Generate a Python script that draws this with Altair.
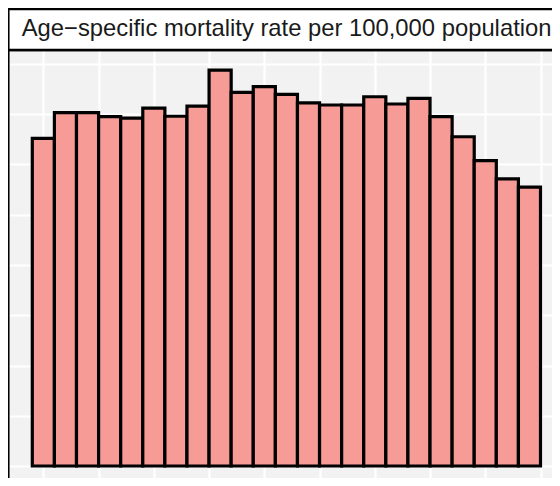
import altair as alt
import pandas as pd

# ---- data ----
years = list(range(2000, 2023))
rates = [16.30, 17.58, 17.58, 17.38, 17.31, 17.80, 17.40, 17.90, 19.70, 18.59,
         18.87, 18.49, 18.07, 17.96, 17.96, 18.37, 18.01, 18.29, 17.38, 16.38,
         15.19, 14.28, 13.87]
x_grid = [2000, 2002.5, 2005, 2007.5, 2010, 2012.5, 2015, 2017.5, 2020, 2022.5]
y_grid = [0, 2.5, 5, 7.5, 10, 12.5, 15, 17.5, 20]
strip_title = "Age\u2212specific mortality rate per 100,000 population"

df = pd.DataFrame({"year": years, "rate": rates})
one = pd.DataFrame({"k": [0]})

x_scale = alt.Scale(domain=[1998.40, 2023.02], nice=False, zero=False)
y_scale = alt.Scale(domain=[-0.597, 20.6965], nice=False, zero=False)

x_axis = alt.Axis(values=x_grid, grid=True, gridColor="white", gridWidth=2.2,
                  labels=False, ticks=False, domain=False, title=None)
y_axis = alt.Axis(values=y_grid, grid=True, gridColor="white", gridWidth=2.2,
                  labels=False, ticks=False, domain=False, title=None)

bars = alt.Chart(df).transform_calculate(
    x0="datum.year - 0.5", x1="datum.year + 0.5", zero="0"
).mark_rect(fill="#F69B95", stroke="black", strokeWidth=3.2).encode(
    x=alt.X("x0:Q", scale=x_scale, axis=x_axis),
    x2="x1:Q",
    y=alt.Y("zero:Q", scale=y_scale, axis=y_axis),
    y2="rate:Q",
)

border = alt.Chart(one).mark_rect(fill=None, filled=False, stroke="black", strokeWidth=2.5).encode(
    x=alt.value(0.3), x2=alt.value(640), y=alt.value(0), y2=alt.value(640)
)

strip = alt.Chart(one).mark_rect(fill="white", stroke="black", strokeWidth=2.5).encode(
    x=alt.value(0.3), x2=alt.value(640), y=alt.value(-41), y2=alt.value(0)
)

title = alt.Chart(one).mark_text(
    text=strip_title, font="Liberation Sans", fontSize=23.8, color="#1A1A1A",
    align="center", baseline="alphabetic"
).encode(x=alt.value(278.6), y=alt.value(-14.3))

chart = alt.layer(bars, border, strip, title).properties(
    width=544, height=428,
    padding={"left": 0, "top": 42, "right": 0, "bottom": 0},
    autosize=alt.AutoSizeParams(type="none"),
    background="white",
).configure_view(fill="#F2F2F2", stroke=None)

chart.save("out.html", embed_options={"renderer": "svg", "actions": False})
